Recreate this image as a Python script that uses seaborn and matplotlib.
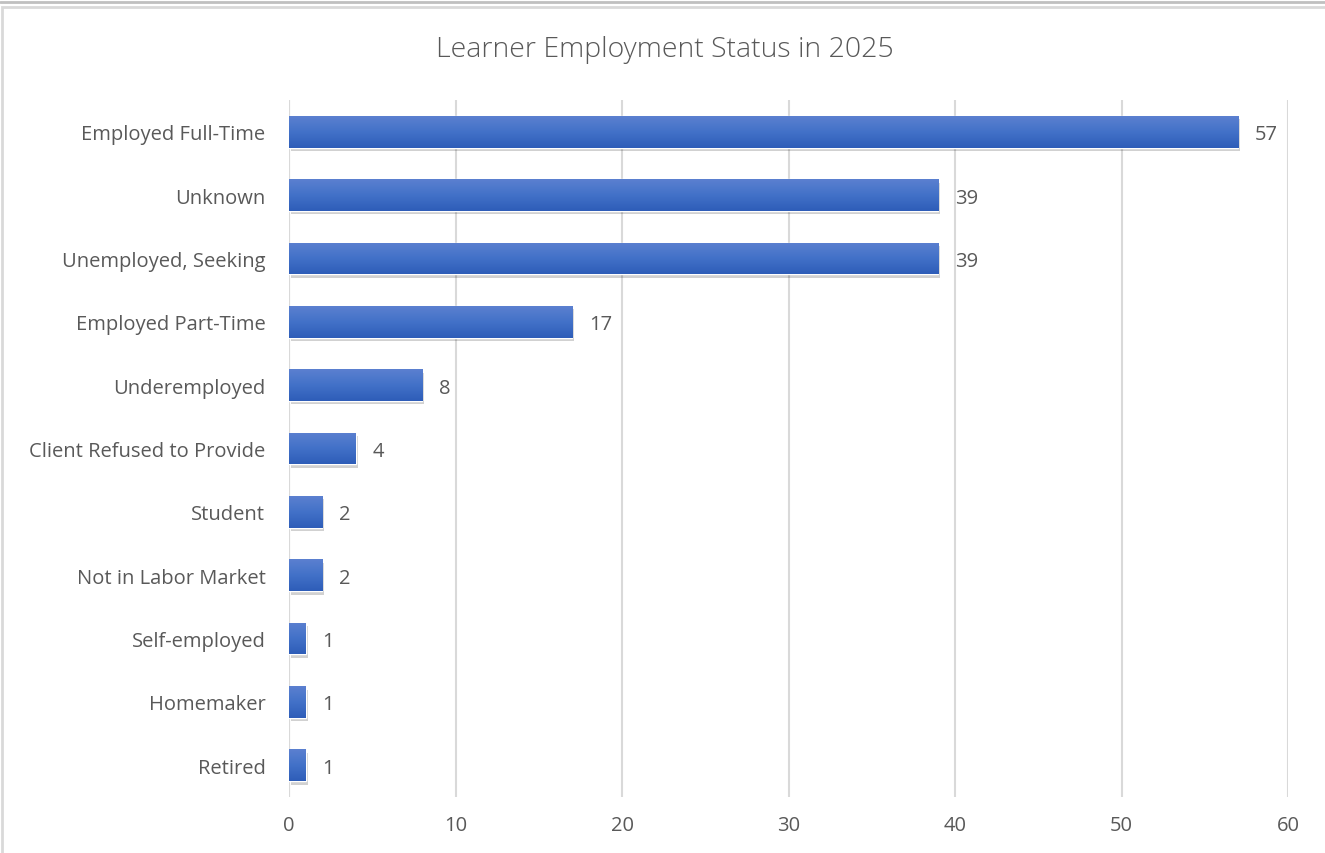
import matplotlib
matplotlib.use("Agg")
import matplotlib.pyplot as plt
import matplotlib.patheffects as pe
from matplotlib.patches import Rectangle
import numpy as np
import pandas as pd
import seaborn as sns

categories = ["Employed Full-Time", "Unknown", "Unemployed, Seeking", "Employed Part-Time",
              "Underemployed", "Client Refused to Provide", "Student", "Not in Labor Market",
              "Self-employed", "Homemaker", "Retired"]
counts = [57, 39, 39, 17, 8, 4, 2, 2, 1, 1, 1]
x_ticks = [0, 10, 20, 30, 40, 50, 60]

TEXT = "#595959"
GRID = "#d9d9d9"

sns.set_theme(style="white")
plt.rcParams["font.family"] = ["Open Sans", "DejaVu Sans"]

df = pd.DataFrame({"status": categories, "count": counts})

fig = plt.figure(figsize=(13.25, 8.54), dpi=100)
ax = fig.add_axes([289 / 1325, 1 - 798 / 854, (1288 - 289) / 1325, (798 - 101) / 854])

sns.barplot(data=df, x="count", y="status", color="#4472c4", width=0.5, ax=ax, zorder=3)

# gradient fill + soft shadow like the Excel bars
grad = np.linspace(0, 1, 64).reshape(-1, 1)
cmap = matplotlib.colors.LinearSegmentedColormap.from_list("bar", ["#5b80d0", "#4271c8", "#2e5db8"])
for p in ax.patches:
    x0, y0 = p.get_x(), p.get_y()
    w, h = p.get_width(), p.get_height()
    p.set_path_effects([pe.SimplePatchShadow(offset=(1.5, -2.5), shadow_rgbFace="#000000", alpha=0.18),
                        pe.Normal()])
    im = ax.imshow(grad, cmap=cmap, aspect="auto", extent=(x0, x0 + w, y0 + h, y0),
                   zorder=4, interpolation="bicubic")
    im.set_clip_path(p)

for i, v in enumerate(counts):
    ax.text(v + 1.0, i, str(v), va="center_baseline", ha="left", fontsize=14.5, color=TEXT, zorder=5)

ax.set_xlim(0, 60)
ax.set_ylim(len(categories) - 0.5, -0.5)
ax.set_xticks(x_ticks)
ax.xaxis.grid(True, color=GRID, linewidth=1.5, zorder=0)
ax.set_axisbelow(True)
for s in ax.spines.values():
    s.set_visible(False)
ax.axvline(0, color=GRID, linewidth=1.5, zorder=1)
ax.tick_params(axis="both", length=0, labelsize=14.5, labelcolor=TEXT)
ax.tick_params(axis="x", pad=13)
ax.tick_params(axis="y", pad=17)
ax.set_xlabel("")
ax.set_ylabel("")

fig.text(665 / 1325, 1 - 50 / 854, "Learner Employment Status in 2025", ha="center", va="center",
         fontsize=20.5, color=TEXT, fontweight="light")

# chart frame lines
fig.add_artist(Rectangle((2 / 1325, -0.01), 1.1, 1 - 8 / 854 + 0.01, transform=fig.transFigure,
                         fill=False, edgecolor="#d9d9d9", linewidth=2))
fig.add_artist(plt.Line2D([0, 1], [1 - 2.5 / 854, 1 - 2.5 / 854], transform=fig.transFigure,
                          color="#c0c0c0", linewidth=2))

fig.savefig("out.png", dpi=100, facecolor="white")
